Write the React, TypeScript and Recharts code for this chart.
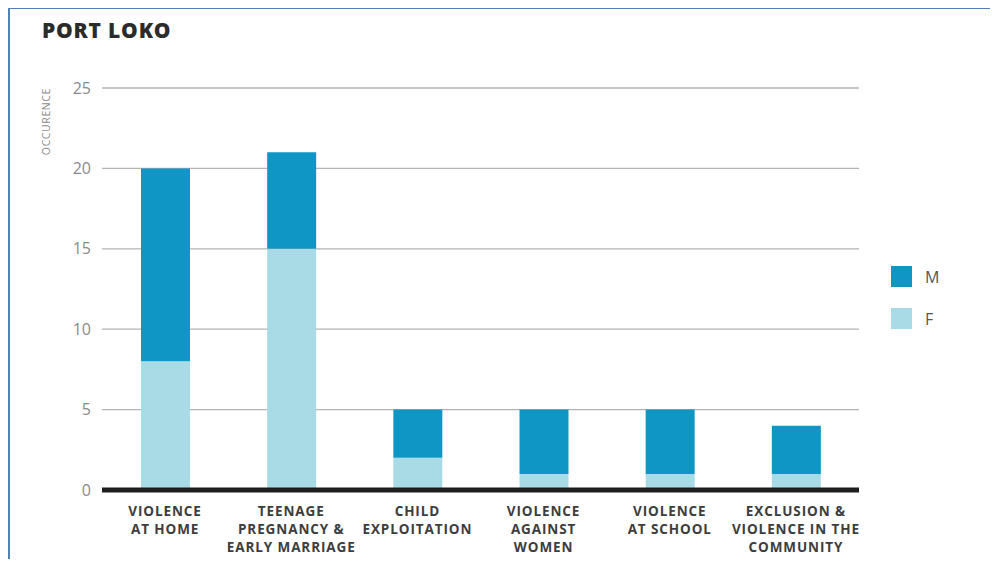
import { Bar, BarChart, CartesianGrid, ReferenceLine, XAxis, YAxis } from "recharts";

const categories = [
  "VIOLENCE|AT HOME",
  "TEENAGE|PREGNANCY &|EARLY MARRIAGE",
  "CHILD|EXPLOITATION",
  "VIOLENCE|AGAINST|WOMEN",
  "VIOLENCE|AT SCHOOL",
  "EXCLUSION &|VIOLENCE IN THE|COMMUNITY"
];
const female = [8, 15, 2, 1, 1, 1];
const male = [12, 6, 3, 4, 4, 3];
const yTicks = [0, 5, 10, 15, 20, 25];

const data = categories.map((c, i) => ({ name: c, F: female[i], M: male[i] }));

const FONT = "'Open Sans', 'Noto Sans', sans-serif";
const M_COLOR = "#0f96c4";
const F_COLOR = "#a9dbe7";

function CategoryTick(props: any) {
  const { x, y, payload } = props;
  const lines = String(payload.value).split("|");
  return (
    <text x={x} y={y + 18} textAnchor="middle" fontFamily={FONT} fontWeight={700} fontSize={13.5} fill="#3d3d3d" letterSpacing={0.9}>
      {lines.map((l, i) => (
        <tspan key={i} x={x} dy={i === 0 ? 0 : 18}>
          {l}
        </tspan>
      ))}
    </text>
  );
}

export default function App() {
  return (
    <div style={{ position: "relative", width: 982, height: 551, fontFamily: FONT }}>
      <div
        style={{
          position: "absolute",
          left: 0,
          top: -1,
          width: 990,
          height: 570,
          borderLeft: "2px solid #4f81bd",
          borderTop: "2px solid #4f81bd"
        }}
      />
      <div style={{ position: "absolute", left: 34, top: 8, fontSize: 21, fontWeight: 800, color: "#2b2b2b", letterSpacing: 0.8 }}>
        PORT LOKO
      </div>
      <svg style={{ position: "absolute", left: 0, top: 0 }} width={80} height={200}>
        <text
          transform="translate(42,80) rotate(-90)"
          textAnchor="end"
          fontFamily={FONT}
          fontSize={10.5}
          fill="#8a8a8a"
          letterSpacing={0.6}
        >
          OCCURENCE
        </text>
      </svg>
      <BarChart
        width={982}
        height={551}
        data={data}
        margin={{ top: 80, right: 131, bottom: 9, left: 2 }}
        barSize={49}
      >
        <CartesianGrid vertical={false} stroke="#b3b3b3" strokeWidth={1.3} />
        <XAxis
          dataKey="name"
          height={60}
          tick={<CategoryTick />}
          tickLine={false}
          axisLine={false}
          interval={0}
        />
        <YAxis
          width={92}
          domain={[0, 25]}
          ticks={yTicks}
          tickLine={false}
          axisLine={false}
          tick={{ fill: "#8a8a8a", fontSize: 16, fontFamily: FONT }}
          tickMargin={5}
        />
        <Bar dataKey="F" stackId="a" fill={F_COLOR} isAnimationActive={false} />
        <Bar dataKey="M" stackId="a" fill={M_COLOR} isAnimationActive={false} />
        <ReferenceLine y={0} stroke="#1e1e1e" strokeWidth={5} />
      </BarChart>
      <div style={{ position: "absolute", left: 883, top: 258 }}>
        {[
          ["M", M_COLOR],
          ["F", F_COLOR]
        ].map(([label, color]) => (
          <div key={label} style={{ display: "flex", alignItems: "center", height: 21, marginBottom: 21 }}>
            <div style={{ width: 21, height: 21, background: color }} />
            <span style={{ marginLeft: 13, fontSize: 16, color: "#555" }}>{label}</span>
          </div>
        ))}
      </div>
    </div>
  );
}
